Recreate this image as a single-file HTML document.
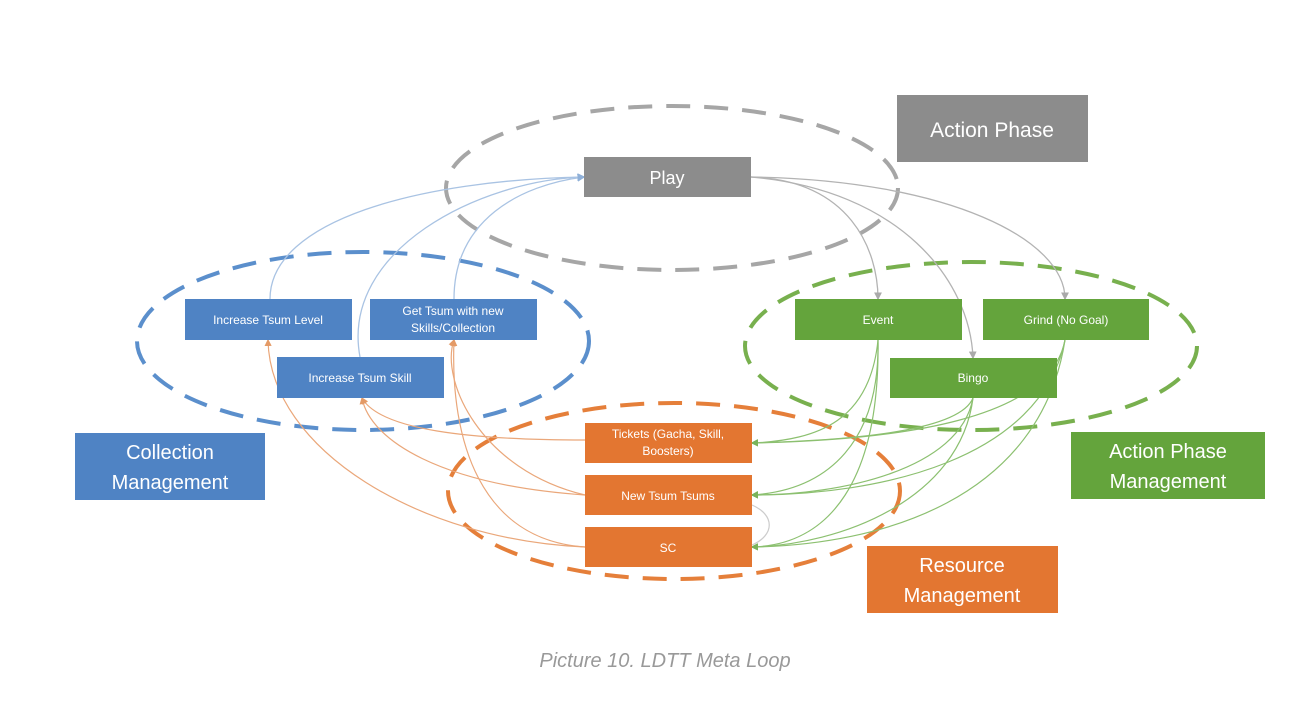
<!DOCTYPE html>
<html><head><meta charset="utf-8"><style>
html,body{margin:0;padding:0;background:#fff;width:1316px;height:704px;overflow:hidden}
svg{display:block}
text{font-family:"Liberation Sans",sans-serif;fill:#fff;text-anchor:middle}
</style></head><body>
<svg width="1316" height="704" viewBox="0 0 1316 704">
<defs>
<marker id="ab" markerWidth="6" markerHeight="6" refX="5" refY="3" orient="auto"><path d="M0,0L6,3L0,6z" fill="#8fb0d8"/></marker>
<marker id="ag" markerWidth="6" markerHeight="6" refX="5" refY="3" orient="auto"><path d="M0,0L6,3L0,6z" fill="#aaa"/></marker>
<marker id="agr" markerWidth="6" markerHeight="6" refX="5" refY="3" orient="auto"><path d="M0,0L6,3L0,6z" fill="#7ab35a"/></marker>
<marker id="ao" markerWidth="6" markerHeight="6" refX="5" refY="3" orient="auto"><path d="M0,0L6,3L0,6z" fill="#e49a66"/></marker>
</defs>
<g fill="none" stroke-width="4" stroke-dasharray="24 14">
<ellipse cx="672" cy="188" rx="226" ry="82" stroke="#a6a6a6"/>
<ellipse cx="363" cy="341" rx="226" ry="89" stroke="#5b8fcc"/>
<ellipse cx="971" cy="346" rx="226" ry="84" stroke="#78b04e"/>
<ellipse cx="674" cy="491" rx="226" ry="88" stroke="#e57f3a"/>
</g>
<!-- blue connectors to Play -->
<g fill="none" stroke="#a9c3e3" stroke-width="1.3">
<path d="M270,299 C270,220 420,180 584,177" marker-end="url(#ab)"/>
<path d="M454,299 C454,220 520,185 584,177" marker-end="url(#ab)"/>
<path d="M360,357 C340,250 480,180 584,177" marker-end="url(#ab)"/>
</g>
<!-- gray connectors from Play -->
<g fill="none" stroke="#b3b3b3" stroke-width="1.3">
<path d="M751,177 C850,180 878,250 878,299" marker-end="url(#ag)"/>
<path d="M751,177 C900,190 970,280 973,358" marker-end="url(#ag)"/>
<path d="M751,177 C950,180 1065,240 1065,299" marker-end="url(#ag)"/>
</g>
<!-- green connectors -->
<g fill="none" stroke="#8cc070" stroke-width="1.2">
<path d="M878,340 C870,420 820,440 752,443" marker-end="url(#agr)"/>
<path d="M878,340 C880,440 830,490 752,495" marker-end="url(#agr)"/>
<path d="M878,340 C880,480 830,545 752,547" marker-end="url(#agr)"/>
<path d="M973,398 C960,430 860,440 752,443" marker-end="url(#agr)"/>
<path d="M973,398 C960,470 840,495 752,495" marker-end="url(#agr)"/>
<path d="M973,398 C960,500 840,545 752,547" marker-end="url(#agr)"/>
<path d="M1065,340 C1050,420 900,440 752,443" marker-end="url(#agr)"/>
<path d="M1065,340 C1040,460 880,495 752,495" marker-end="url(#agr)"/>
<path d="M1065,340 C1040,500 880,545 752,547" marker-end="url(#agr)"/>
</g>
<!-- orange connectors -->
<g fill="none" stroke="#eaa77a" stroke-width="1.2">
<path d="M585,440 C470,440 380,430 362,398" marker-end="url(#ao)"/>
<path d="M585,495 C440,485 370,440 362,398" marker-end="url(#ao)"/>
<path d="M585,495 C480,470 440,380 454,340" marker-end="url(#ao)"/>
<path d="M585,547 C420,540 270,450 268,340" marker-end="url(#ao)"/>
<path d="M585,547 C480,540 450,440 454,340" marker-end="url(#ao)"/>
<path d="M752,505 C775,515 775,535 752,545" stroke="#ccc"/>
</g>
<!-- boxes -->
<g>
<rect x="897" y="95" width="191" height="67" fill="#8c8c8c"/>
<text x="992" y="137" font-size="21">Action Phase</text>
<rect x="584" y="157" width="167" height="40" fill="#8c8c8c"/>
<text x="667" y="184" font-size="18">Play</text>

<rect x="185" y="299" width="167" height="41" fill="#4f83c4"/>
<text x="268" y="324" font-size="12">Increase Tsum Level</text>
<rect x="370" y="299" width="167" height="41" fill="#4f83c4"/>
<text x="453" y="315" font-size="12">Get Tsum with new</text>
<text x="453" y="332" font-size="12">Skills/Collection</text>
<rect x="277" y="357" width="167" height="41" fill="#4f83c4"/>
<text x="360" y="382" font-size="12">Increase Tsum Skill</text>

<rect x="795" y="299" width="167" height="41" fill="#64a43c"/>
<text x="878" y="324" font-size="12">Event</text>
<rect x="983" y="299" width="166" height="41" fill="#64a43c"/>
<text x="1066" y="324" font-size="12">Grind (No Goal)</text>
<rect x="890" y="358" width="167" height="40" fill="#64a43c"/>
<text x="973" y="382" font-size="12">Bingo</text>

<rect x="75" y="433" width="190" height="67" fill="#4f83c4"/>
<text x="170" y="459" font-size="20">Collection</text>
<text x="170" y="489" font-size="20">Management</text>

<rect x="585" y="423" width="167" height="40" fill="#e37631"/>
<text x="668" y="438" font-size="12">Tickets (Gacha, Skill,</text>
<text x="668" y="455" font-size="12">Boosters)</text>
<rect x="585" y="475" width="167" height="40" fill="#e37631"/>
<text x="668" y="500" font-size="12">New Tsum Tsums</text>
<rect x="585" y="527" width="167" height="40" fill="#e37631"/>
<text x="668" y="552" font-size="12">SC</text>

<rect x="1071" y="432" width="194" height="67" fill="#64a43c"/>
<text x="1168" y="458" font-size="20">Action Phase</text>
<text x="1168" y="488" font-size="20">Management</text>

<rect x="867" y="546" width="191" height="67" fill="#e37631"/>
<text x="962" y="572" font-size="20">Resource</text>
<text x="962" y="602" font-size="20">Management</text>
</g>
<text x="665" y="667" font-size="20" font-style="italic" style="fill:#999">Picture 10. LDTT Meta Loop</text>
</svg>
</body></html>
